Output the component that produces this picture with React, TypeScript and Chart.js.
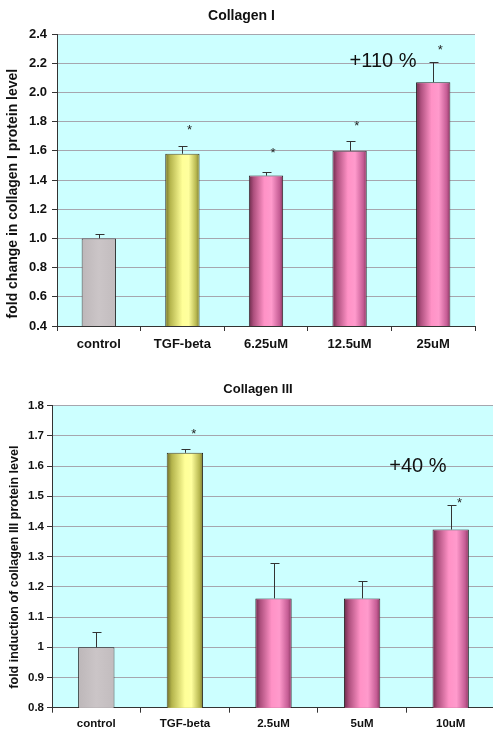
import React, { useEffect, useRef } from 'react';
import { Chart, registerables } from 'chart.js';

Chart.register(...registerables);

const FONT = '"Liberation Sans", Arial, Helvetica, sans-serif';

// ---- Collagen I ----
const title1 = 'Collagen I';
const yTitle1 = 'fold change in collagen I protein level';
const categories1 = ['control', 'TGF-beta', '6.25uM', '12.5uM', '25uM'];
const values1 = [1.0, 1.58, 1.43, 1.6, 2.07];
const errors1 = [0.03, 0.05, 0.025, 0.065, 0.14];
const stars1: (number | null)[] = [null, 1.76, 1.6, 1.79, 2.31];
const annotText1 = '+110 %';
const annotAt1 = [3.4, 2.21];
const yRange1 = [0.4, 2.4, 0.2];

// ---- Collagen III ----
const title2 = 'Collagen III';
const yTitle2 = 'fold induction of collagen III protein level';
const categories2 = ['control', 'TGF-beta', '2.5uM', '5uM', '10uM'];
const values2 = [1.0, 1.644, 1.162, 1.162, 1.39];
const errors2 = [0.05, 0.013, 0.118, 0.058, 0.08];
const stars2: (number | null)[] = [null, 1.714, null, null, 1.488];
const annotText2 = '+40 %';
const annotAt2 = [3.63, 1.6];
const yRange2 = [0.8, 1.8, 0.1];

// bar kinds: 0 grey, 1 yellow, 2 pink
const kinds = [0, 1, 2, 2, 2];

const BASE = ['#c8c2c4', '#f4f48c', '#f08cbf'];
const STOPS: [number, string][][] = [
  [[0, '#bdb7b9'], [0.5, '#cbc5c7'], [1, '#c2bcbe']],
  [[0, '#6e6e2a'], [0.14, '#b4b44c'], [0.5, '#ffff98'], [0.68, '#ffff9e'], [0.9, '#b8b850'], [1, '#7c7c34']],
  [[0, '#6a2a4a'], [0.14, '#ae507e'], [0.45, '#ff92c6'], [0.66, '#ff9acc'], [0.9, '#c45c94'], [1, '#86365e']],
];

type Spec = {
  title: string;
  yTitle: string;
  yTitleShift: number;
  categories: string[];
  values: number[];
  errors: number[];
  stars: (number | null)[];
  annotText: string;
  annotAt: number[];
  yRange: number[];
  width: number;
  height: number;
  padLeft: number;
  padRight: number;
  yWidth: number;
  xHeight: number;
  titleFont: number;
  titlePad: { top: number; bottom: number };
  tickFont: number;
  yTitleFont: number;
  yTitlePadTop: number;
  yTickPad: number;
  xTickPad: number;
  tickLen: number;
  starOffset: number;
};

function buildConfig(s: Spec): any {
  const decor = {
    id: 'decor',
    beforeDraw(chart: any) {
      const { ctx, chartArea } = chart;
      ctx.save();
      ctx.fillStyle = '#ccffff';
      ctx.fillRect(chartArea.left, chartArea.top, chartArea.right - chartArea.left, chartArea.bottom - chartArea.top);
      ctx.restore();
    },
    afterDatasetsDraw(chart: any) {
      const { ctx, chartArea } = chart;
      const xs = chart.scales.x;
      const ys = chart.scales.y;
      const meta = chart.getDatasetMeta(0);
      ctx.save();
      meta.data.forEach((el: any, i: number) => {
        const { x, y, base, width } = el.getProps(['x', 'y', 'base', 'width'], true);
        const left = x - width / 2;
        const bottom = Math.min(base, chartArea.bottom);
        const g = ctx.createLinearGradient(left, 0, left + width, 0);
        STOPS[kinds[i]].forEach(([o, c]) => g.addColorStop(o, c));
        ctx.fillStyle = g;
        ctx.fillRect(left + 1, y + 1, width - 2, bottom - y - 1);
        // error bar (upper only)
        const top = ys.getPixelForValue(s.values[i] + s.errors[i]);
        const cx = Math.round(x) + 0.5;
        ctx.strokeStyle = '#333';
        ctx.lineWidth = 1;
        ctx.beginPath();
        ctx.moveTo(cx, y);
        ctx.lineTo(cx, Math.round(top) + 0.5);
        ctx.moveTo(cx - 4, Math.round(top) + 0.5);
        ctx.lineTo(cx + 5, Math.round(top) + 0.5);
        ctx.stroke();
      });
      // stars
      ctx.fillStyle = '#222';
      ctx.font = `13px ${FONT}`;
      ctx.textAlign = 'center';
      ctx.textBaseline = 'middle';
      s.stars.forEach((v, i) => {
        if (v == null) return;
        ctx.fillText('*', xs.getPixelForValue(i + s.starOffset), ys.getPixelForValue(v) + 3);
      });
      // annotation
      ctx.fillStyle = '#111';
      ctx.font = `20px ${FONT}`;
      ctx.fillText(s.annotText, xs.getPixelForValue(s.annotAt[0]), ys.getPixelForValue(s.annotAt[1]));
      ctx.restore();
    },
  };

  return {
    type: 'bar',
    data: {
      labels: s.categories,
      datasets: [
        {
          data: s.values,
          backgroundColor: kinds.map((k) => BASE[k]),
          borderColor: '#222',
          borderWidth: 1,
          borderSkipped: false,
          barPercentage: 0.41,
          categoryPercentage: 1,
        },
      ],
    },
    options: {
      responsive: false,
      animation: false,
      devicePixelRatio: 1,
      layout: { padding: { left: s.padLeft, right: s.padRight, top: 0, bottom: 0 } },
      plugins: {
        legend: { display: false },
        tooltip: { enabled: false },
        title: {
          display: true,
          text: s.title,
          color: '#111',
          font: { family: FONT, size: s.titleFont, weight: 'bold', lineHeight: 1.2 },
          padding: s.titlePad,
        },
      },
      scales: {
        x: {
          type: 'category',
          offset: true,
          grid: {
            display: true,
            drawOnChartArea: false,
            drawTicks: true,
            tickLength: s.tickLen,
            tickColor: '#333',
            offset: true,
          },
          border: { display: true, color: '#333', width: 1 },
          ticks: {
            color: '#111',
            padding: s.xTickPad,
            maxRotation: 0,
            autoSkip: false,
            font: { family: FONT, size: s.tickFont, weight: 'bold', lineHeight: 1.2 },
          },
          afterFit: (sc: any) => {
            sc.height = s.xHeight;
          },
        },
        y: {
          min: s.yRange[0],
          max: s.yRange[1],
          ticks: {
            stepSize: s.yRange[2],
            color: '#111',
            padding: s.yTickPad,
            font: { family: FONT, size: s.tickFont, weight: 'bold', lineHeight: 1.2 },
            callback: (v: number) => (s.yRange[2] >= 0.2 ? Number(v).toFixed(1) : String(Math.round(Number(v) * 10) / 10)),
          },
          grid: {
            color: '#a6a6ae',
            lineWidth: 1,
            drawTicks: true,
            tickLength: s.tickLen,
            tickColor: '#333',
          },
          border: { display: true, color: '#333', width: 1 },
          title: {
            display: true,
            // trailing spaces nudge the centred rotated title towards the axis bottom, as in the original
            text: s.yTitle + ' '.repeat(s.yTitleShift),
            color: '#111',
            font: { family: FONT, size: s.yTitleFont, weight: 'bold', lineHeight: 1.2 },
            padding: { top: s.yTitlePadTop, bottom: 0 },
          },
          afterFit: (sc: any) => {
            sc.width = s.yWidth;
          },
        },
      },
    },
    plugins: [decor],
  };
}

const spec1: Spec = {
  title: title1,
  yTitle: yTitle1,
  yTitleShift: 7,
  categories: categories1,
  values: values1,
  errors: errors1,
  stars: stars1,
  annotText: annotText1,
  annotAt: annotAt1,
  yRange: yRange1,
  width: 493,
  height: 365,
  padLeft: 8,
  padRight: 18,
  yWidth: 49,
  xHeight: 39,
  titleFont: 14,
  titlePad: { top: 8, bottom: 9.2 },
  tickFont: 13,
  yTitleFont: 14,
  yTitlePadTop: -3.4,
  yTickPad: 5,
  xTickPad: 6,
  tickLen: 5,
  starOffset: 0.085,
};

const spec2: Spec = {
  title: title2,
  yTitle: yTitle2,
  yTitleShift: 6,
  categories: categories2,
  values: values2,
  errors: errors2,
  stars: stars2,
  annotText: annotText2,
  annotAt: annotAt2,
  yRange: yRange2,
  width: 500,
  height: 367,
  padLeft: 21,
  padRight: 5,
  yWidth: 31,
  xHeight: 24.3,
  titleFont: 13,
  titlePad: { top: 16.2, bottom: 8.9 },
  tickFont: 11.5,
  yTitleFont: 12.5,
  yTitlePadTop: -13.5,
  yTickPad: 3,
  xTickPad: 4,
  tickLen: 5,
  starOffset: 0.1,
};

function BarChart({ spec }: { spec: Spec }) {
  const ref = useRef<HTMLCanvasElement | null>(null);
  useEffect(() => {
    if (!ref.current) return;
    const chart = new Chart(ref.current, buildConfig(spec));
    return () => chart.destroy();
  }, [spec]);
  return (
    <canvas
      ref={ref}
      width={spec.width}
      height={spec.height}
      style={{ display: 'block', width: spec.width, height: spec.height }}
    />
  );
}

export default function App() {
  return (
    <div
      style={{
        position: 'absolute',
        left: 0,
        top: 0,
        width: 493,
        height: 732,
        overflow: 'hidden',
        background: '#ffffff',
      }}
    >
      <BarChart spec={spec1} />
      <BarChart spec={spec2} />
    </div>
  );
}
